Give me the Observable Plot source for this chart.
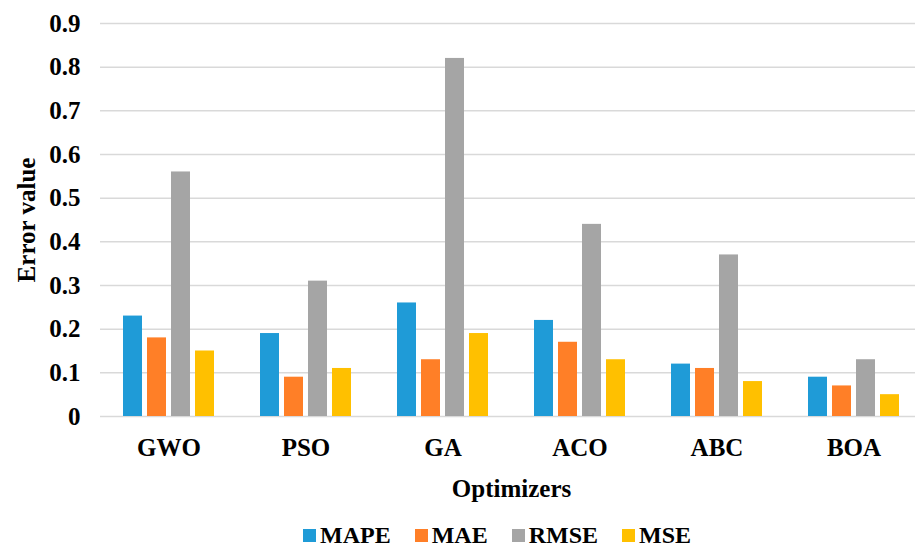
<!DOCTYPE html>
<html><head><meta charset="utf-8">
<script src="https://cdn.jsdelivr.net/npm/d3@7"></script>
<script src="https://cdn.jsdelivr.net/npm/@observablehq/plot@0.6"></script>
<style>
html,body{margin:0;padding:0;background:#fff;overflow:hidden}
#wrap{position:relative;width:915px;height:549px;overflow:hidden}
#wrap, #wrap *, #wrap svg text{font-family:"Liberation Serif","Times New Roman","DejaVu Serif",serif !important;font-weight:bold !important}
#chart svg{display:block;overflow:hidden}
#legend{position:absolute;left:303px;top:524px}
.lg-swatches{margin:0 !important;min-height:0 !important;line-height:22px !important;font-size:24px !important}
.lg-swatch{margin-right:24px !important;line-height:22px !important}
.lg-swatch > svg, .lg-swatch svg{margin-right:4px !important}
</style></head><body><div id="wrap"><div id="chart"></div><div id="legend"></div></div>
<script>
const optimizers = ["GWO", "PSO", "GA", "ACO", "ABC", "BOA"];
const metrics = ["MAPE", "MAE", "RMSE", "MSE"];
const mape = [0.23, 0.19, 0.26, 0.22, 0.12, 0.09];
const mae  = [0.18, 0.09, 0.13, 0.17, 0.11, 0.07];
const rmse = [0.56, 0.31, 0.82, 0.44, 0.37, 0.13];
const mse  = [0.15, 0.11, 0.19, 0.13, 0.08, 0.05];
const colors = ["#1F9BD7", "#FF7F27", "#A5A5A5", "#FFC000"];
const yTicks = [0, 0.1, 0.2, 0.3, 0.4, 0.5, 0.6, 0.7, 0.8, 0.9];
const yTickLabels = ["0", "0.1", "0.2", "0.3", "0.4", "0.5", "0.6", "0.7", "0.8", "0.9"];

const series = {MAPE: mape, MAE: mae, RMSE: rmse, MSE: mse};
const data = optimizers.flatMap((o, i) => metrics.map(m => ({optimizer: o, metric: m, value: series[m][i]})));
const font = '"Liberation Serif","Times New Roman",serif';

const chart = Plot.plot({
  width: 915, height: 515,
  marginLeft: 99, marginRight: -7, marginTop: 23, marginBottom: 99,
  style: {fontFamily: font, fontSize: "25px", fontWeight: "bold", color: "#000", background: "#fff"},
  fx: {domain: optimizers, padding: 0},
  x: {domain: metrics, paddingInner: 0.22, paddingOuter: 0.852, axis: null},
  y: {domain: [0, 0.9]},
  color: {domain: metrics, range: colors},
  marks: [
    Plot.gridY(yTicks, {stroke: "#d9d9d9", strokeOpacity: 1, strokeWidth: 1.5}),
    Plot.barY(data, {fx: "optimizer", x: "metric", y: "value", fill: "metric"}),
    Plot.axisY(yTicks, {tickSize: 0, tickPadding: 20, tickFormat: d => yTickLabels[yTicks.indexOf(d)],
      label: "Error value", labelAnchor: "center", labelOffset: 83, labelArrow: "none"}),
    Plot.axisFx({anchor: "bottom", tickSize: 0, tickPadding: 22, label: "Optimizers",
      labelAnchor: "center", labelOffset: 80, labelArrow: "none"})
  ]
});
document.getElementById("chart").appendChild(chart);

const legend = Plot.legend({
  color: {domain: metrics, range: colors},
  legend: "swatches", swatchSize: 13, className: "lg",
  style: {fontFamily: font, fontSize: "24px", fontWeight: "bold", color: "#000"}
});
document.getElementById("legend").appendChild(legend);
</script></body></html>
